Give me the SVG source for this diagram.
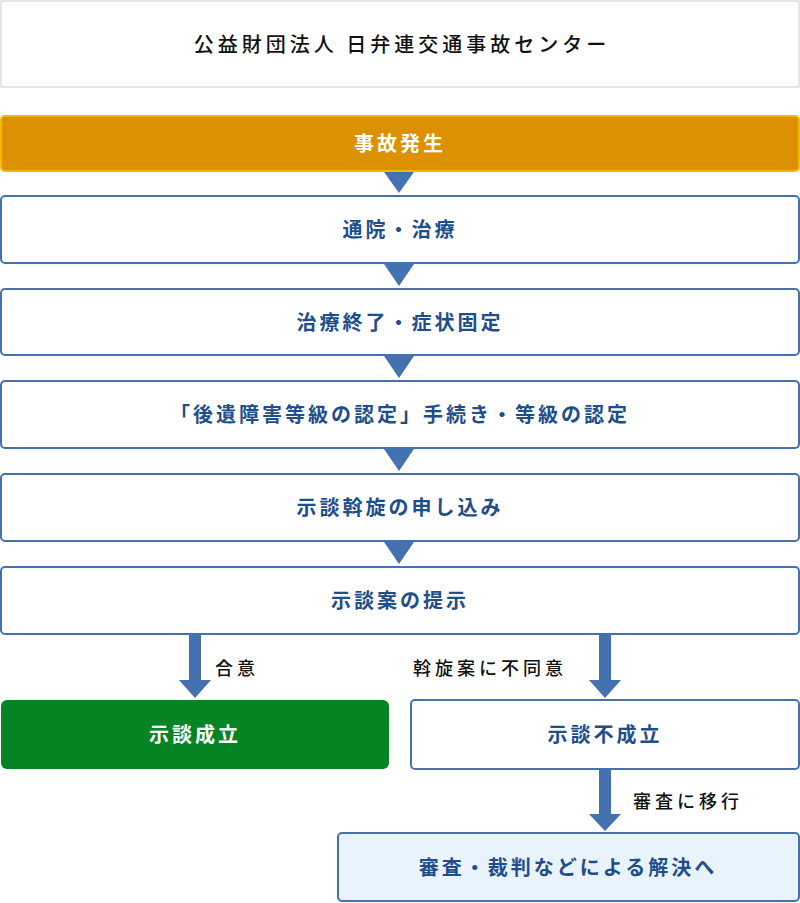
<svg xmlns="http://www.w3.org/2000/svg" width="800" height="903" viewBox="0 0 800 903">
<style>
text{font-family:"Noto Sans CJK JP",sans-serif;text-anchor:middle;letter-spacing:3px}
.b{fill:#fff;stroke:#4472B0;stroke-width:2}
.t{fill:#1E4E8C;font-size:20px;font-weight:bold}
.w{fill:#fff;font-size:20px;font-weight:bold}
.l{fill:#111;font-size:18px;font-weight:500;text-anchor:start;letter-spacing:4px}
.a{fill:#4472B0}
</style>
<g id="title"><rect x="1" y="1" width="798" height="86" fill="#fff" stroke="#ccc"/><text x="402" y="52" style="fill:#111;font-size:20px;font-weight:500;letter-spacing:4px">公益財団法人 日弁連交通事故センター</text></g>
<g id="n1"><rect x="1" y="116" width="798" height="55" rx="4" fill="#DC9100" stroke="#F5B800" stroke-width="2"/><text class="w" x="400" y="151">事故発生</text></g>
<g id="n2"><rect class="b" x="1" y="196" width="798" height="67" rx="4"/><text class="t" x="400" y="237">通院・治療</text></g>
<g id="n3"><rect class="b" x="1" y="289" width="798" height="66" rx="4"/><text class="t" x="400" y="330">治療終了・症状固定</text></g>
<g id="n4"><rect class="b" x="1" y="381" width="798" height="67" rx="4"/><text class="t" x="400" y="422">「後遺障害等級の認定」手続き・等級の認定</text></g>
<g id="n5"><rect class="b" x="1" y="474" width="798" height="67" rx="4"/><text class="t" x="400" y="515">示談斡旋の申し込み</text></g>
<g id="n6"><rect class="b" x="1" y="567" width="798" height="67" rx="4"/><text class="t" x="400" y="608">示談案の提示</text></g>
<g id="n7"><rect x="1" y="700" width="388" height="69" rx="6" fill="#048422"/><text class="w" x="195" y="742">示談成立</text></g>
<g id="n8"><rect class="b" x="411" y="700" width="388" height="69" rx="4"/><text class="t" x="605" y="742">示談不成立</text></g>
<g id="n9"><rect x="338" y="833" width="461" height="68" rx="4" fill="#E8F3FC" stroke="#4472B0" stroke-width="2"/><text class="t" x="568" y="875">審査・裁判などによる解決へ</text></g>
<g id="connectors">
<polygon class="a" points="384,172 414,172 399,193"/>
<polygon class="a" points="384,264 414,264 399,286"/>
<polygon class="a" points="384,356 414,356 399,378"/>
<polygon class="a" points="384,449 414,449 399,471"/>
<polygon class="a" points="384,542 414,542 399,564"/>
<polygon class="a" points="189,634 201,634 201,680 211,680 195,698 179,680 189,680"/>
<polygon class="a" points="599,634 611,634 611,680 621,680 605,698 589,680 599,680"/>
<polygon class="a" points="599,769 611,769 611,814 621,814 605,831 589,814 599,814"/>
<text class="l" x="215" y="675">合意</text>
<text class="l" x="413" y="675">斡旋案に不同意</text>
<text class="l" x="633" y="808">審査に移行</text>
</g>
</svg>
